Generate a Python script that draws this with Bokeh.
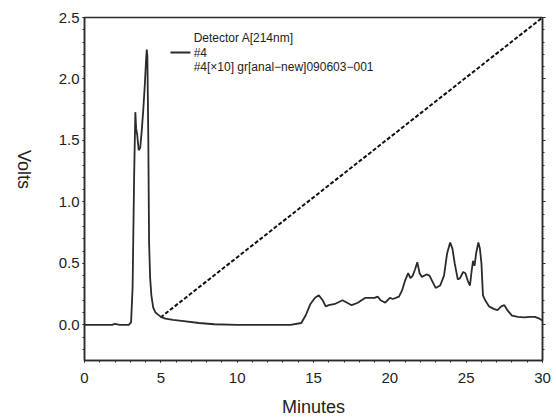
import math
from bokeh.plotting import figure
from bokeh.models import (Range1d, LinearAxis, Label, SingleIntervalTicker,
                          PrintfTickFormatter, CustomJSTickFormatter)
from bokeh.embed import file_html
from bokeh.resources import INLINE

# ---- data ----
time_min = [0.0, 1.0, 1.8, 2.0, 2.3, 2.9, 3.05, 3.15, 3.25, 3.33, 3.38, 3.45,
            3.55, 3.65, 3.75, 3.85, 3.95, 4.03, 4.08, 4.12, 4.18, 4.23, 4.3,
            4.38, 4.5, 4.65, 4.8, 5.0, 5.3, 5.8, 6.5, 7.5, 8.5, 10.0, 12.0,
            13.5, 14.2, 14.5, 14.8, 15.1, 15.35, 15.6, 15.8, 16.0, 16.4, 16.9,
            17.2, 17.5, 17.9, 18.4, 19.0, 19.2, 19.4, 19.7, 20.0, 20.2, 20.6,
            20.8, 21.0, 21.2, 21.35, 21.5, 21.65, 21.8, 21.95, 22.1, 22.4, 22.6,
            22.8, 23.0, 23.3, 23.55, 23.75, 23.95, 24.1, 24.25, 24.45, 24.6,
            24.8, 24.95, 25.1, 25.25, 25.35, 25.45, 25.55, 25.65, 25.8, 25.9,
            26.0, 26.1, 26.25, 26.5, 26.8, 27.05, 27.3, 27.5, 27.7, 28.0, 28.4,
            28.8, 29.2, 29.5, 29.8, 30.0]
volts = [0.0, 0.0, 0.0, 0.008, 0.0, 0.0, 0.02, 0.3, 1.2, 1.73, 1.6, 1.55,
         1.42, 1.44, 1.58, 1.75, 1.95, 2.15, 2.24, 2.18, 1.5, 0.67, 0.38,
         0.24, 0.14, 0.1, 0.085, 0.065, 0.05, 0.04, 0.03, 0.015, 0.005, 0.0, 0.0,
         0.0, 0.015, 0.08, 0.17, 0.22, 0.24, 0.2, 0.15, 0.16, 0.17, 0.2,
         0.18, 0.16, 0.18, 0.22, 0.22, 0.23, 0.2, 0.18, 0.22, 0.21, 0.23,
         0.28, 0.36, 0.42, 0.38, 0.4, 0.45, 0.51, 0.42, 0.39, 0.41, 0.4,
         0.35, 0.3, 0.32, 0.4, 0.58, 0.67, 0.62, 0.5, 0.37, 0.38,
         0.43, 0.42, 0.36, 0.32, 0.43, 0.52, 0.48, 0.58, 0.67, 0.62,
         0.5, 0.24, 0.2, 0.15, 0.13, 0.12, 0.15, 0.16, 0.12, 0.075, 0.065,
         0.06, 0.065, 0.065, 0.05, 0.035]

gradient_time = [4.98, 30.0]
gradient_volts = [0.06, 2.5]

legend_lines = ["Detector A[214nm]", "#4", "#4[\u00d710]  gr[anal\u2212new]090603\u2212001"]

FONT = "Liberation Sans"
DARK = "#2b2b2b"

p = figure(width=556, height=419, output_backend="svg", toolbar_location=None,
           x_range=Range1d(0, 30), y_range=Range1d(-0.29, 2.5),
           min_border_left=84, min_border_right=14, min_border_top=17,
           min_border_bottom=57)
p.grid.visible = False
p.background_fill_color = "white"
p.border_fill_color = "white"
p.outline_line_color = DARK
p.outline_line_width = 1.5

for ax in (p.xaxis[0], p.yaxis[0]):
    ax.axis_line_color = DARK
    ax.axis_line_width = 1.5
    ax.major_tick_line_color = DARK
    ax.minor_tick_line_color = DARK
    ax.major_tick_in = 0
    ax.major_tick_out = 2
    ax.minor_tick_in = 0
    ax.minor_tick_out = 2
    ax.major_label_text_font = FONT
    ax.major_label_text_font_size = "15px"
    ax.major_label_text_color = "#222222"
    ax.axis_label_text_font = FONT
    ax.axis_label_text_font_size = "18px"
    ax.axis_label_text_font_style = "normal"
    ax.axis_label_text_color = "#222222"

p.xaxis[0].ticker = SingleIntervalTicker(interval=5, num_minor_ticks=5)
p.yaxis[0].ticker = SingleIntervalTicker(interval=0.5, num_minor_ticks=5)
p.yaxis[0].formatter = PrintfTickFormatter(format="%.1f")
p.xaxis[0].major_label_standoff = 10
p.yaxis[0].major_label_standoff = 3
p.xaxis[0].axis_label = "Minutes"
p.xaxis[0].axis_label_standoff = 11
p.yaxis[0].axis_label = "Volts"
p.yaxis[0].axis_label_orientation = -math.pi / 2
p.yaxis[0].axis_label_standoff = 32

right = LinearAxis(ticker=SingleIntervalTicker(interval=0.5, num_minor_ticks=5),
                   formatter=CustomJSTickFormatter(code="return ''"))
right.axis_line_color = DARK
right.axis_line_width = 1.5
right.major_tick_line_color = DARK
right.minor_tick_line_color = DARK
right.major_tick_in = 0
right.major_tick_out = 3
right.minor_tick_in = 0
right.minor_tick_out = 2
right.major_label_standoff = 0
p.add_layout(right, "right")

p.line(gradient_time, gradient_volts, line_color="#111111", line_width=2,
       line_dash="4 2")
p.line(time_min, volts, line_color=DARK, line_width=1.8)

p.line([5.63, 6.94], [2.215, 2.215], line_color=DARK, line_width=2)
legend_y = [2.33, 2.215, 2.10]
for txt, yy in zip(legend_lines, legend_y):
    p.add_layout(Label(x=7.15, y=yy, text=txt, text_font=FONT,
                       text_font_size="12px", text_baseline="middle",
                       text_color="#222222"))

open("out.html", "w").write(file_html(p, INLINE))
